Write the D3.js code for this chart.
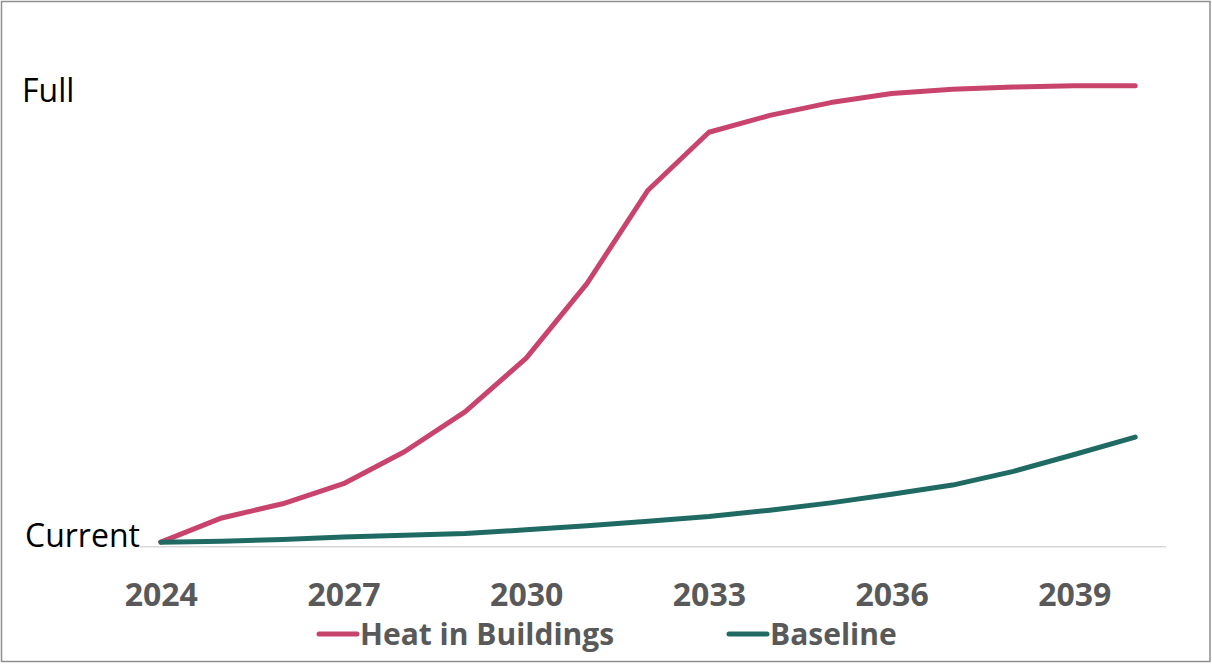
<!DOCTYPE html>
<html>
<head>
<meta charset="utf-8">
<script src="https://cdn.jsdelivr.net/npm/d3@7"></script>
<style>
  html, body { margin: 0; padding: 0; background: #fff; }
  svg { display: block; }
</style>
</head>
<body>
<svg id="chart" width="1212" height="664"></svg>
<script>
// Years on the category axis
const years = [2024, 2025, 2026, 2027, 2028, 2029, 2030, 2031, 2032, 2033,
               2034, 2035, 2036, 2037, 2038, 2039, 2040];

// Progress from current state (0) to full (100)
const heatInBuildings = [0, 5.3, 8.4, 12.8, 19.8, 28.6, 40.3, 56.7, 77.1, 89.8,
                         93.5, 96.3, 98.3, 99.2, 99.7, 100, 100];
const baseline = [0, 0.2, 0.6, 1.1, 1.5, 1.9, 2.7, 3.6, 4.6, 5.6,
                  7.0, 8.6, 10.5, 12.5, 15.5, 19.2, 23.0];

// Tick labels
const xTickYears = [2024, 2027, 2030, 2033, 2036, 2039];
const yTickValues = [0, 100];
const yTickLabels = ["Current", "Full"];

const seriesNames = ["Heat in Buildings", "Baseline"];
const seriesColors = ["#c8446d", "#1f6b64"];

const svg = d3.select("#chart");
const W = 1212, H = 664;

// frame
svg.append("rect")
  .attr("x", 1.5).attr("y", 1.5)
  .attr("width", W - 3.5).attr("height", H - 4)
  .attr("fill", "#fff")
  .attr("stroke", "#8f8f8f")
  .attr("stroke-width", 1.5);

const x = d3.scalePoint()
  .domain(years)
  .range([160.8, 1135.2]);

const y = d3.scaleLinear()
  .domain([-1, 100])
  .range([546.7, 85.7]);

// category axis baseline
svg.append("line")
  .attr("x1", 140).attr("x2", 1166)
  .attr("y1", y(-1)).attr("y2", y(-1))
  .attr("stroke", "#d9d9d9")
  .attr("stroke-width", 1.5);

// year labels
const xAxis = d3.axisBottom(x)
  .tickValues(xTickYears)
  .tickSize(0)
  .tickPadding(0)
  .tickFormat(d3.format("d"));

const gx = svg.append("g")
  .attr("transform", `translate(0, ${y(-1)})`)
  .call(xAxis);
gx.select(".domain").remove();
gx.selectAll("text")
  .attr("dy", null)
  .attr("y", 59)
  .attr("fill", "#595959")
  .style("font-family", "'Open Sans', sans-serif")
  .style("font-weight", "700")
  .style("font-size", "32px");

// value-axis labels
const yLabelOffsets = [5, 16];
const yLabelX = [25, 22];
svg.append("g").selectAll("text")
  .data(yTickValues)
  .join("text")
  .attr("x", (d, i) => yLabelX[i])
  .attr("y", (d, i) => y(d) + yLabelOffsets[i])
  .attr("fill", "#000")
  .style("font-family", "'Open Sans', sans-serif")
  .style("font-size", "32px")
  .text((d, i) => yTickLabels[i]);

// series lines
const line = d3.line()
  .x((d, i) => x(years[i]))
  .y(d => y(d));

[heatInBuildings, baseline].forEach((vals, k) => {
  svg.append("path")
    .datum(vals)
    .attr("d", line)
    .attr("fill", "none")
    .attr("stroke", seriesColors[k])
    .attr("stroke-width", 5)
    .attr("stroke-linecap", "round")
    .attr("stroke-linejoin", "round");
});

// legend
const legendX = [319, 729];
const legendY = 634;
const lg = svg.append("g").selectAll("g")
  .data(seriesNames)
  .join("g")
  .attr("transform", (d, i) => `translate(${legendX[i]}, ${legendY})`);
lg.append("line")
  .attr("x1", 0).attr("x2", 38)
  .attr("y1", 0).attr("y2", 0)
  .attr("stroke", (d, i) => seriesColors[i])
  .attr("stroke-width", 5)
  .attr("stroke-linecap", "round");
lg.append("text")
  .attr("x", 41)
  .attr("y", 11)
  .attr("fill", "#595959")
  .style("font-family", "'Open Sans', sans-serif")
  .style("font-weight", "700")
  .style("font-size", "30px")
  .text(d => d);
</script>
</body>
</html>
